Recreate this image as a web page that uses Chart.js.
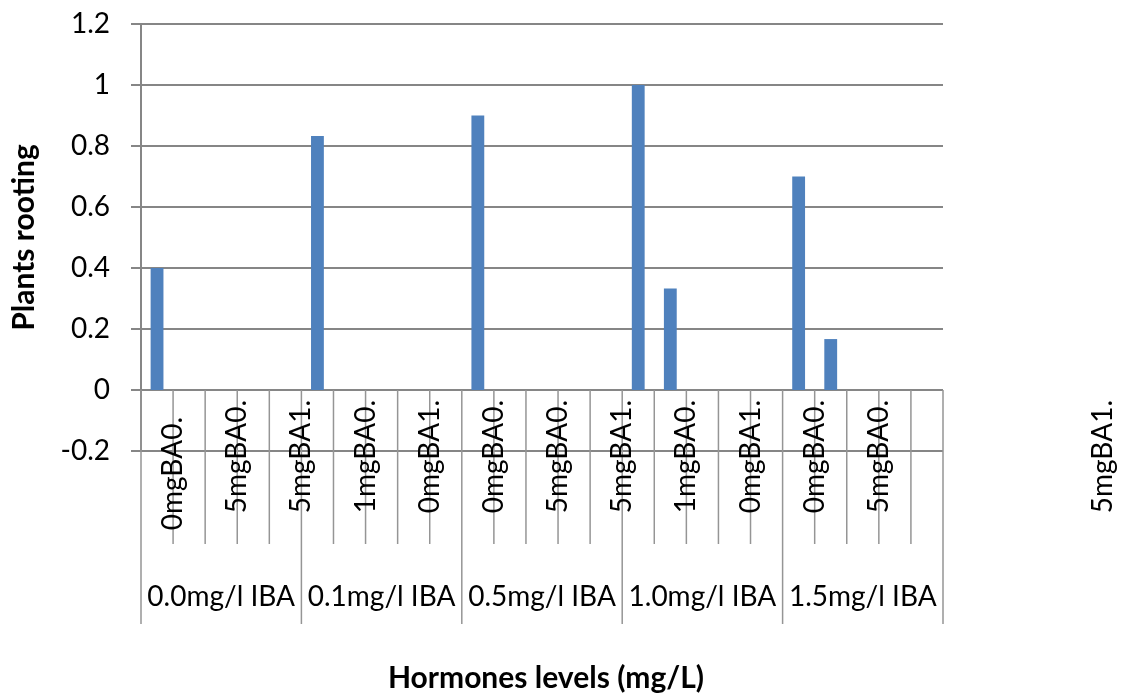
<!DOCTYPE html>
<html>
<head>
<meta charset="utf-8">
<script src="https://cdn.jsdelivr.net/npm/chart.js@4/dist/chart.umd.min.js"></script>
<style>
  body { margin: 0; background: #fff; }
  #wrap { width: 1122px; height: 694px; }
</style>
</head>
<body>
<div id="wrap"><canvas id="rootingChart" width="1122" height="694"></canvas></div>
<script>
// groups on the outer axis level, 5 treatments in each
const groups = ['0.0mg/l IBA', '0.1mg/l IBA', '0.5mg/l IBA', '1.0mg/l IBA', '1.5mg/l IBA'];
const perGroup = 5;
// inner labels as Excel shows them (every 2nd slot)
const subLabels = ['0mgBA0.', '5mgBA0.', '5mgBA1.', '1mgBA0.', '0mgBA1.', '0mgBA0.', '5mgBA0.',
  '5mgBA1.', '1mgBA0.', '0mgBA1.', '0mgBA0.', '5mgBA0.', '5mgBA1.'];
const rooting = [0.4, 0, 0, 0, 0,
  0.833, 0, 0, 0, 0,
  0.9, 0, 0, 0, 0,
  1.0, 0.333, 0, 0, 0,
  0.7, 0.167, 0, 0, 0];
const yMin = -0.2, yMax = 1.2, yStep = 0.2;

const categories = [];
groups.forEach(function (g) {
  for (let i = 1; i <= perGroup; i++) categories.push(g + ' #' + i);
});

const lineGray = '#868686';
const textFont = '28px Lato';
const boldFont = 'bold 30px Lato';

// draws the two-level category table below the zero line
const categoryTable = {
  id: 'categoryTable',
  afterDraw(chart) {
    const ctx = chart.ctx;
    const x = chart.scales.x, y = chart.scales.y;
    const left = chart.chartArea.left, right = chart.chartArea.right;
    const w = (right - left) / categories.length;
    const y0 = y.getPixelForValue(0);
    const subBottom = y0 + 154;
    const groupBottom = y0 + 234;

    ctx.save();
    ctx.strokeStyle = '#959595';
    ctx.lineWidth = 1.5;
    for (let b = 0; b <= categories.length; b++) {
      const bx = left + b * w;
      ctx.beginPath();
      ctx.moveTo(bx, y0);
      ctx.lineTo(bx, b % perGroup === 0 ? groupBottom : subBottom);
      ctx.stroke();
    }

    // inner labels, rotated
    ctx.fillStyle = '#000';
    ctx.font = textFont;
    ctx.textAlign = 'right';
    ctx.textBaseline = 'middle';
    subLabels.forEach(function (s, k) {
      let lx = left + (2 * k + 1) * w;
      if (k === subLabels.length - 1) lx = right + perGroup * w;
      const ly = y0 + (k === 0 ? 27 : 10);
      ctx.save();
      ctx.translate(lx, ly);
      ctx.rotate(-Math.PI / 2);
      ctx.fillText(s, 0, 0);
      ctx.restore();
    });

    // group labels
    ctx.textAlign = 'center';
    ctx.textBaseline = 'alphabetic';
    groups.forEach(function (g, i) {
      const gx = (x.getPixelForValue(i * perGroup) + x.getPixelForValue(i * perGroup + perGroup - 1)) / 2;
      ctx.fillText(g, gx, y0 + 216);
    });

    // x axis title
    ctx.font = boldFont;
    ctx.fillText('Hormones levels (mg/L)', (left + right) / 2 + 4, 688);
    ctx.restore();
  }
};

new Chart(document.getElementById('rootingChart').getContext('2d'), {
  type: 'bar',
  data: {
    labels: categories,
    datasets: [{
      label: 'Plants rooting',
      data: rooting,
      backgroundColor: '#4f81bd',
      borderWidth: 0,
      barPercentage: 0.4,
      categoryPercentage: 1.0
    }]
  },
  options: {
    responsive: false,
    animation: false,
    layout: { padding: { left: 0, top: 24, right: 179, bottom: 243 } },
    plugins: {
      legend: { display: false },
      tooltip: { enabled: false }
    },
    scales: {
      x: { display: false },
      y: {
        min: yMin,
        max: yMax,
        afterFit: function (scale) {
          scale.width = 141;
          scale.paddingTop = 0;
          scale.paddingBottom = 0;
        },
        ticks: {
          stepSize: yStep,
          padding: 21,
          color: '#000',
          font: { family: 'Lato', size: 28 },
          callback: function (v) { return String(+v.toFixed(1)); }
        },
        grid: { color: lineGray, lineWidth: 2, tickLength: 10 },
        border: { color: lineGray, width: 2 },
        title: {
          display: true,
          text: 'Plants rooting',
          color: '#000',
          font: { family: 'Lato', size: 30, weight: 'bold' },
          padding: { top: 6, bottom: 0 }
        }
      }
    }
  },
  plugins: [categoryTable]
});
</script>
</body>
</html>
